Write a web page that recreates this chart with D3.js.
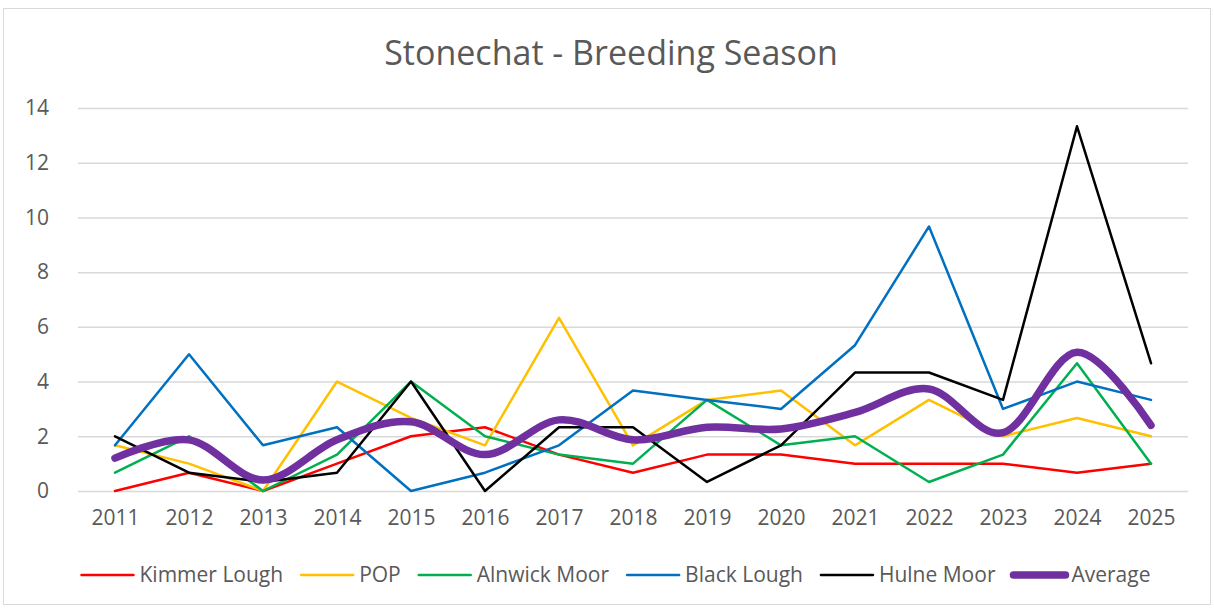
<!DOCTYPE html>
<html>
<head>
<meta charset="utf-8">
<script src="https://cdn.jsdelivr.net/npm/d3@7"></script>
<style>
  body { margin: 0; background: #fff; }
  text { font-family: "Open Sans", "Noto Sans", sans-serif; fill: #595959; }
</style>
</head>
<body>
<script>
// data
var years = ["2011","2012","2013","2014","2015","2016","2017","2018","2019","2020","2021","2022","2023","2024","2025"];
var kimmerLough = [0, 0.67, 0, 1, 2, 2.33, 1.33, 0.67, 1.33, 1.33, 1, 1, 1, 0.67, 1];
var pop         = [1.67, 1, 0, 4, 2.67, 1.67, 6.33, 1.67, 3.33, 3.67, 1.67, 3.33, 2, 2.67, 2];
var alnwickMoor = [0.67, 2, 0, 1.33, 4, 2, 1.33, 1, 3.33, 1.67, 2, 0.33, 1.33, 4.67, 1];
var blackLough  = [1.67, 5, 1.67, 2.33, 0, 0.67, 1.67, 3.67, 3.33, 3, 5.33, 9.67, 3, 4, 3.33];
var hulneMoor   = [2, 0.67, 0.33, 0.67, 4, 0, 2.33, 2.33, 0.33, 1.67, 4.33, 4.33, 3.33, 13.33, 4.67];
var average     = [1.2, 1.87, 0.4, 1.87, 2.53, 1.33, 2.6, 1.87, 2.33, 2.27, 2.87, 3.73, 2.13, 5.07, 2.4];
var yTicks = [0, 2, 4, 6, 8, 10, 12, 14];

var series = [
    {name: "Kimmer Lough", values: kimmerLough, color: "#FF0000", w: 2.5, smooth: false},
    {name: "POP", values: pop, color: "#FFC000", w: 2.5, smooth: false},
    {name: "Alnwick Moor", values: alnwickMoor, color: "#00B050", w: 2.5, smooth: false},
    {name: "Black Lough", values: blackLough, color: "#0070C0", w: 2.5, smooth: false},
    {name: "Hulne Moor", values: hulneMoor, color: "#000000", w: 2.5, smooth: false},
    {name: "Average", values: average, color: "#7030A0", w: 7.5, smooth: true}
];

var width = 1214, height = 608;
var margin = {top: 108, right: 26, bottom: 117, left: 78};

var svg = d3.select("body").append("svg")
        .attr("width", width)
        .attr("height", height);

// chart border
svg.append("rect")
        .attr("x", 3.5).attr("y", 8.5)
        .attr("width", width - 7).attr("height", height - 12)
        .attr("fill", "#fff")
        .attr("stroke", "#d9d9d9");

svg.append("text")
        .attr("x", 611)
        .attr("y", 65)
        .attr("text-anchor", "middle")
        .style("font-size", "34px")
        .text("Stonechat - Breeding Season");

var x = d3.scalePoint()
        .domain(years)
        .range([margin.left, width - margin.right])
        .padding(0.5);

var y = d3.scaleLinear()
        .domain([0, 14])
        .range([height - margin.bottom, margin.top]);

//gridlines + y labels
var yAxis = svg.append("g")
        .attr("transform", "translate(" + margin.left + ",0)")
        .call(d3.axisLeft(y).tickValues(yTicks)
                .tickSize(-(width - margin.left - margin.right))
                .tickPadding(29));
yAxis.select(".domain").remove();
yAxis.selectAll("line").attr("stroke", "#d9d9d9").attr("stroke-width", 1.5);
yAxis.selectAll("text").style("font-size", "21px").attr("fill", "#595959");

var xAxis = svg.append("g")
        .attr("transform", "translate(0," + (height - margin.bottom) + ")")
        .call(d3.axisBottom(x).tickSize(0).tickPadding(19));
xAxis.select(".domain").remove();
xAxis.selectAll("text").style("font-size", "21px").attr("fill", "#595959");

// lines
series.forEach(function(s) {
    var line = d3.line()
            .x(function(d, i) { return x(years[i]); })
            .y(function(d) { return y(d); })
            .curve(s.smooth ? d3.curveCatmullRom.alpha(0) : d3.curveLinear);
    svg.append("path")
            .datum(s.values)
            .attr("d", line)
            .attr("fill", "none")
            .attr("stroke", s.color)
            .attr("stroke-width", s.w)
            .attr("stroke-linejoin", "round")
            .attr("stroke-linecap", "round");
});

// legend, laid out by measured text width and centred
var legend = svg.append("g");
var lx = 0;
series.forEach(function(s) {
    var item = legend.append("g").attr("transform", "translate(" + lx + ",0)");
    item.append("line")
            .attr("x1", 0).attr("x2", 52)
            .attr("y1", 0).attr("y2", 0)
            .attr("stroke", s.color)
            .attr("stroke-width", s.w)
            .attr("stroke-linecap", "round");
    var t = item.append("text")
            .attr("x", 58).attr("y", 7)
            .style("font-size", "21px")
            .text(s.name);
    lx += 58 + t.node().getComputedTextLength() + 18;
});
lx -= 18;
legend.attr("transform", "translate(" + (616 - lx / 2) + ",575)");
</script>
</body>
</html>
